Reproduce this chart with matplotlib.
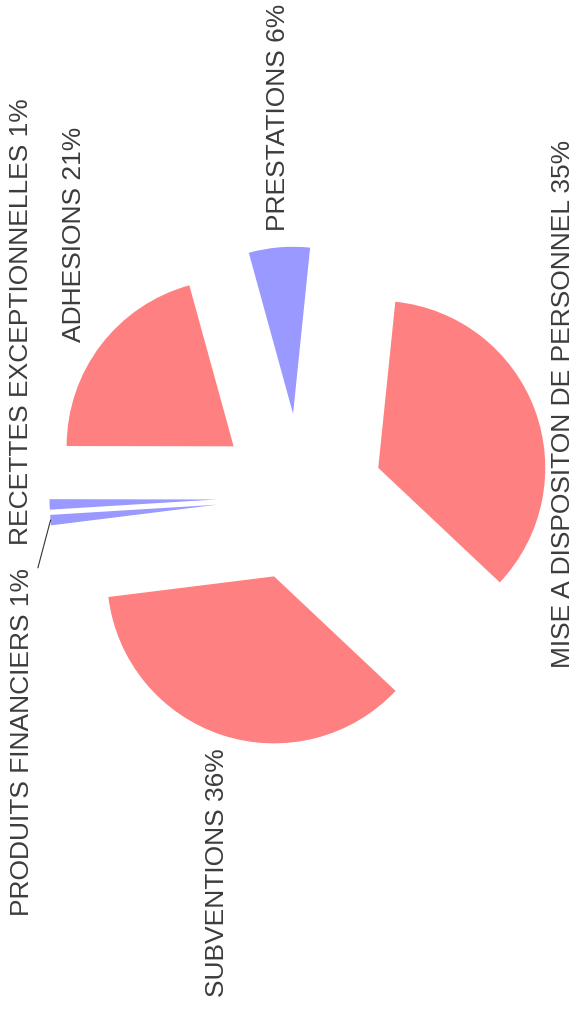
import numpy as np
import matplotlib
matplotlib.use("Agg")
import matplotlib.pyplot as plt

labels = ['MISE A DISPOSITON DE PERSONNEL', 'PRESTATIONS', 'ADHESIONS',
          'RECETTES EXCEPTIONNELLES', 'PRODUITS FINANCIERS', 'SUBVENTIONS']
values = [35.4, 5.9, 20.7, 1.0, 1.0, 36.0]
colors = ['#ff8080', '#9999ff', '#ff8080', '#9999ff', '#9999ff', '#ff8080']

W, H = 572, 1009
cx, cy = 300, 512
R = 167
expl = 0.5 * R  # matplotlib explode is an absolute offset
start = -43.3
txtcol = '#3c3c3c'

fig = plt.figure(figsize=(W / 100, H / 100), dpi=100)
ax = fig.add_axes([0, 0, 1, 1])
wedges, _ = ax.pie(values, colors=colors, startangle=start, radius=R,
                   center=(cx, cy), explode=[expl] * len(values),
                   counterclock=True, wedgeprops=dict(linewidth=0))
ax.set_xlim(0, W)
ax.set_ylim(0, H)
ax.set_aspect('equal')
ax.axis('off')

# labels rotated 90 deg, placed outside each slice
shift = {0: (1, 0), 2: (-2, -7), 5: (0, 3)}
stack = {3: ('bottom', -40), 4: ('top', -46)}  # small slices pushed apart
D = 1.6 * R
total = sum(values)
for i, w in enumerate(wedges):
    th = np.deg2rad((w.theta1 + w.theta2) / 2)
    c, s = np.cos(th), np.sin(th)
    x, y = cx + D * c, cy + D * s
    ha = 'left' if c > 0.4 else ('right' if c < -0.4 else 'center')
    va = 'bottom' if s > 0.4 else ('top' if s < -0.4 else 'center')
    dx, dy = shift.get(i, (0, 0))
    x += dx
    y += dy
    if i in stack:
        va, dy = stack[i]
        y += dy
    pct = 100.0 * values[i] / total
    ax.text(x, y, '%s %.0f%%' % (labels[i], pct), rotation=90,
            ha=ha, va=va, fontsize=19, color=txtcol,
            family=['Liberation Sans', 'DejaVu Sans'])
    if i == 4:
        # leader line to the tiny slice
        ox = cx + expl * c + R * c
        oy = cy + expl * s + R * s
        ax.plot([x + 4, ox], [y, oy], color='#333333', lw=0.8)

plt.savefig('out.png', dpi=100, facecolor='white')
